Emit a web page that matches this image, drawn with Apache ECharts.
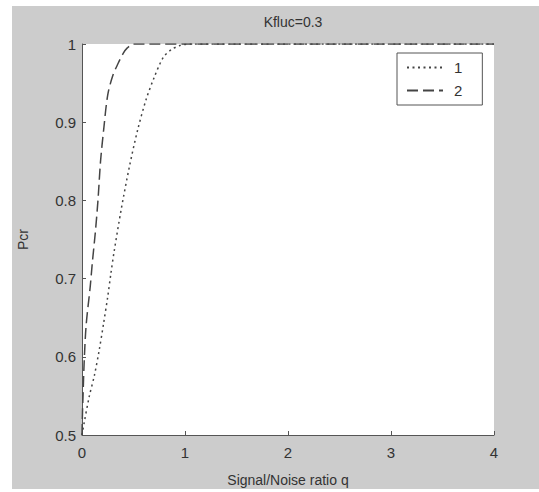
<!DOCTYPE html>
<html><head><meta charset="utf-8">
<script src="https://cdn.jsdelivr.net/npm/echarts@6/dist/echarts.min.js"></script>
<style>html,body{margin:0;padding:0;background:#fff}#c{width:539px;height:492px}</style>
</head><body><div id="c"></div>
<script>
const titleText = 'Kfluc=0.3';
const xName = 'Signal/Noise ratio q';
const yName = 'Pcr';
const seriesNames = ['1', '2'];
// curve 1 (dotted)
const q1 = [0, 0.02, 0.07, 0.12, 0.165, 0.21, 0.25, 0.28, 0.31, 0.38, 0.46, 0.54, 0.62, 0.70, 0.79, 0.87, 0.95, 1.05, 4];
const p1 = [0.5, 0.515, 0.549, 0.576, 0.607, 0.643, 0.677, 0.706, 0.733, 0.788, 0.843, 0.89, 0.928, 0.957, 0.983, 0.993, 0.998, 1.0, 1.0];
// curve 2 (dashed)
const q2 = [0, 0.005, 0.01, 0.02, 0.04, 0.08, 0.1, 0.13, 0.155, 0.18, 0.21, 0.25, 0.3, 0.35, 0.4, 0.44, 0.5, 4];
const p2 = [0.5, 0.53, 0.55, 0.59, 0.64, 0.69, 0.72, 0.76, 0.80, 0.85, 0.89, 0.935, 0.96, 0.975, 0.988, 0.995, 1.0, 1.0];
const xTicks = [0, 1, 2, 3, 4];
const yTicks = [0.5, 0.6, 0.7, 0.8, 0.9, 1];

const chart = echarts.init(document.getElementById('c'), null, {renderer: 'svg'});
const txt = '#333';
const font = 'Liberation Sans, Arial, sans-serif';
chart.setOption({
  animation: false,
  backgroundColor: '#fff',
  graphic: [{type: 'rect', z: -10, silent: true, shape: {x: 12, y: 6, width: 527, height: 483}, style: {fill: '#cccccc'}}],
  title: {text: titleText, left: 288, top: 10, textAlign: 'center',
    textStyle: {fontFamily: font, fontSize: 14, fontWeight: 'normal', color: txt}},
  grid: {left: 82, top: 44, width: 412, height: 391, show: true, backgroundColor: '#fff', borderWidth: 0},
  legend: {
    orient: 'vertical', left: 397, top: 53,
    backgroundColor: '#fff', borderColor: '#555', borderWidth: 1,
    padding: [7, 20, 7, 9], itemGap: 8, itemWidth: 36, itemHeight: 14,
    itemStyle: {opacity: 0},
    textStyle: {fontFamily: font, fontSize: 15, color: txt, padding: [0, 0, 0, 6]},
    data: seriesNames
  },
  xAxis: {
    type: 'value', min: 0, max: 4, interval: 1,
    name: xName, nameLocation: 'middle', nameGap: 38,
    nameTextStyle: {fontFamily: font, fontSize: 14, color: txt},
    axisLine: {show: true, lineStyle: {color: '#555'}},
    axisTick: {show: true, inside: true, length: 4, lineStyle: {color: '#555'}},
    axisLabel: {fontFamily: font, fontSize: 15, color: txt, margin: 10},
    splitLine: {show: false}
  },
  yAxis: {
    type: 'value', min: 0.5, max: 1, interval: 0.1,
    name: yName, nameLocation: 'middle', nameGap: 52, nameRotate: 90,
    nameTextStyle: {fontFamily: font, fontSize: 14, color: txt},
    axisLine: {show: true, lineStyle: {color: '#555'}},
    axisTick: {show: true, inside: true, length: 4, lineStyle: {color: '#555'}},
    axisLabel: {fontFamily: font, fontSize: 15, color: txt, margin: 6,
      formatter: v => (Math.abs(v - 1) < 1e-9 ? '1' : v.toFixed(1))},
    splitLine: {show: false}
  },
  series: [
    {name: seriesNames[0], type: 'line', symbol: 'none', smooth: 0.3,
      data: q1.map((q, i) => [q, p1[i]]),
      itemStyle: {color: '#444'},
      lineStyle: {color: '#444', width: 1.5, type: [2, 3.5]}},
    {name: seriesNames[1], type: 'line', symbol: 'none', smooth: 0.3,
      data: q2.map((q, i) => [q, p2[i]]),
      itemStyle: {color: '#444'},
      lineStyle: {color: '#444', width: 1.5, type: [11, 5]}}
  ]
});
</script></body></html>
